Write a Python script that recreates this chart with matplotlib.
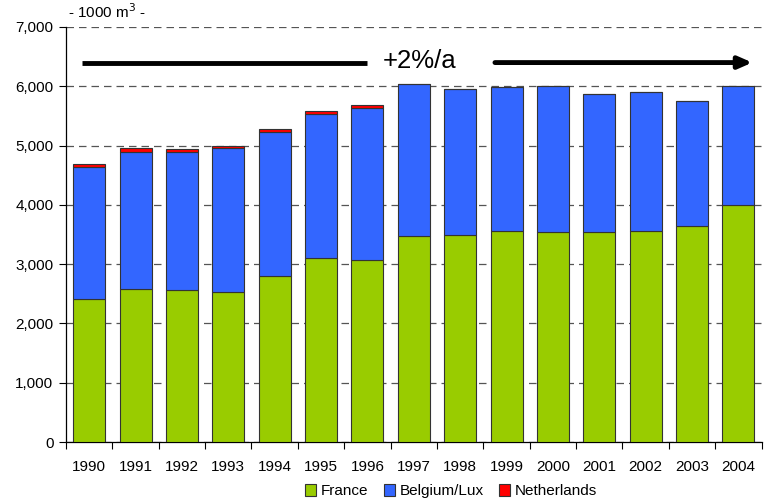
import numpy as np
import matplotlib.pyplot as plt
from matplotlib.ticker import FuncFormatter, MultipleLocator

plt.rcParams['font.family'] = ['Liberation Sans', 'DejaVu Sans']

# Datos (1000 m3)
years = ['1990', '1991', '1992', '1993', '1994', '1995', '1996', '1997',
         '1998', '1999', '2000', '2001', '2002', '2003', '2004']
france = [2410, 2580, 2560, 2530, 2800, 3100, 3070, 3470,
          3490, 3560, 3540, 3540, 3560, 3640, 4000]
belgium = [2230, 2310, 2330, 2430, 2430, 2430, 2560, 2570,
           2460, 2430, 2460, 2330, 2340, 2110, 2010]
netherlands = [50, 70, 50, 30, 50, 50, 50, 0, 0, 0, 0, 0, 0, 0, 0]

x = np.arange(len(years))
w = 0.69
edge = dict(edgecolor='#333333', linewidth=0.8)

fig = plt.figure(figsize=(7.67, 5.0), dpi=100)
ax = fig.add_axes([0.086, 0.116, 0.907, 0.83])

ax.bar(x, france, w, color='#99CC00', label='France', zorder=3, **edge)
ax.bar(x, belgium, w, bottom=france, color='#3366FF', label='Belgium/Lux', zorder=3, **edge)
bottom2 = np.array(france) + np.array(belgium)
ax.bar(x, netherlands, w, bottom=bottom2, color='#FF0000', label='Netherlands', zorder=3, **edge)

ax.set_xlim(-0.5, len(years) - 0.5)
ax.set_ylim(0, 7000)
ax.yaxis.set_major_locator(MultipleLocator(1000))
ax.yaxis.set_major_formatter(FuncFormatter(lambda v, p: f'{int(v):,}'))
ax.grid(axis='y', linestyle=(0, (6, 4)), color='#555555', linewidth=0.9, zorder=1)

ax.set_xticks(x)
ax.set_xticklabels(years)
ax.set_xticks(np.arange(-0.5, len(years)), minor=True)
ax.tick_params(axis='x', which='major', length=0, pad=13, labelsize=11)
ax.tick_params(axis='x', which='minor', length=5, width=0.8)
ax.tick_params(axis='y', length=5, width=0.8, labelsize=11, pad=4)

for s in ['top', 'right']:
    ax.spines[s].set_visible(False)
ax.spines['left'].set_linewidth(0.9)
ax.spines['bottom'].set_linewidth(0.9)

# Flecha de tendencia
ax.plot([-0.15, 6.0], [6400, 6400], color='black', lw=3.5, solid_capstyle='butt', zorder=4)
ax.annotate('', xy=(14.3, 6400), xytext=(8.75, 6400),
            arrowprops=dict(arrowstyle='-|>,head_length=0.8,head_width=0.35',
                            color='black', lw=3.5, shrinkA=0, shrinkB=0), zorder=4)
ax.text(7.12, 6430, '+2%/a', ha='center', va='center', fontsize=18.5)

fig.text(0.089, 0.958, '- 1000 m$^3$ -', ha='left', va='bottom', fontsize=11)

fig.legend(loc='lower center', bbox_to_anchor=(0.588, -0.024), ncol=3, frameon=False,
           fontsize=11, handlelength=0.75, handleheight=0.75, handletextpad=0.3,
           columnspacing=1.0)

fig.savefig('out.png', dpi=100)
